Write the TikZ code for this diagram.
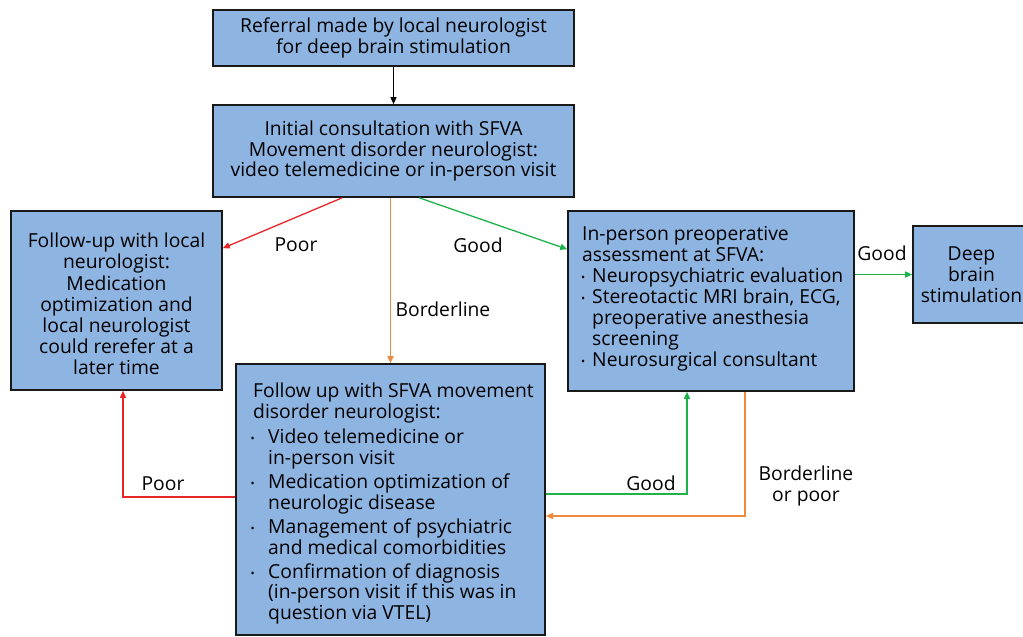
\documentclass[tikz,border=0pt]{standalone}
\usepackage{fontspec}
\setmainfont{Open Sans}
\usetikzlibrary{arrows.meta,calc}
\definecolor{boxfill}{RGB}{142,180,226}
\definecolor{cred}{RGB}{232,38,42}
\definecolor{corange}{RGB}{240,138,64}
\definecolor{cgreen}{RGB}{29,179,74}
\newcommand{\bulA}{\makebox[15pt][l]{\hspace*{-2.5pt}\raisebox{1pt}{\fontsize{11}{11}\selectfont•}}}
\newcommand{\indA}{\hspace*{15pt}}
\newcommand{\bulB}{\makebox[10pt][l]{\hspace*{-1pt}\raisebox{1pt}{\fontsize{11}{11}\selectfont•}}}
\newcommand{\indB}{\hspace*{10pt}}
\begin{document}
\begin{tikzpicture}[x=1pt,y=-1pt,
  box/.style={draw=black!90,line width=1.6pt,fill=boxfill,inner sep=0pt,
    font=\fontsize{19.3}{20.8}\selectfont},
  txt/.style={inner sep=0pt},
  lbl/.style={inner sep=0pt,font=\fontsize{19.3}{20.8}\selectfont,align=center},
  arr/.style={line width=1.3pt,-{Triangle[length=7pt,width=6pt]}}]
\useasboundingbox (0,0) rectangle (1023,637);
\clip (0,0) rectangle (1023,637);
\fill[white] (0,0) rectangle (1023,637);

\node[box,minimum width=361pt,minimum height=56pt,align=center] (b1) at (393.5,38)
  {Referral made by local neurologist\\for deep brain stimulation};
\node[box,minimum width=361pt,minimum height=92pt,align=center] (b2) at (393.5,151)
  {Initial consultation with SFVA\\Movement disorder neurologist:\\video telemedicine or in-person visit};
\node[box,minimum width=211pt,minimum height=179pt] (bl) at (116.5,300.5) {};
\node[txt,align=center,font=\fontsize{19.3}{21.2}\selectfont] (blt) at (116.5,304)
  {Follow-up with local\\neurologist:\\Medication\\optimization and\\local neurologist\\could rerefer at a\\later time};
\node[box,minimum width=286pt,minimum height=180pt] (br) at (711,301) {};
\node[txt,anchor=north west,align=left,font=\fontsize{19.3}{21}\selectfont] (brt) at (582,226)
  {In-person preoperative\\assessment at SFVA:\\
   \bulB Neuropsychiatric evaluation\\
   \bulB Stereotactic MRI brain, ECG,\\
   \indB preoperative anesthesia\\
   \indB screening\\
   \bulB Neurosurgical consultant};
\node[box,minimum width=117pt,minimum height=97pt,align=center] (bd) at (971.5,274.5)
  {Deep\\brain\\stimulation};
\node[box,minimum width=309pt,minimum height=271pt] (bb) at (390.5,499.5) {};
\node[txt,anchor=north west,align=left,font=\fontsize{19.3}{20.9}\selectfont] (bbt) at (253,382.5)
  {Follow up with SFVA movement\\disorder neurologist:\\[4.5pt]
   \bulA Video telemedicine or\\
   \indA in-person visit\\[3pt]
   \bulA Medication optimization of\\
   \indA neurologic disease\\[3pt]
   \bulA Management of psychiatric\\
   \indA and medical comorbidities\\[3pt]
   \bulA Confirmation of diagnosis\\
   \indA (in-person visit if this was in\\
   \indA question via VTEL)};

% coordinates on box borders
\coordinate (r1s) at ($(b2.south west)+(130,0)$);
\coordinate (r1e) at ($(bl.north east)+(0,38)$);
\coordinate (g1s) at ($(b2.south west)+(207,0)$);
\coordinate (g1e) at ($(br.north west)+(0,39)$);
\coordinate (o1s) at (b2.south -| bb.north);
\coordinate (g2s) at (br.east |- bd.west);
\coordinate (rps) at ($(bb.west)+(0,-2.5)$);
\coordinate (rpe) at ($(bl.south)+(6.5,0)$);
\coordinate (ggs) at ($(bb.east)+(0,-5.5)$);
\coordinate (gge) at ($(br.south)+(-24,0)$);
\coordinate (obs) at ($(br.south)+(34,0)$);
\coordinate (obe) at ($(bb.east)+(0,16.5)$);

\draw[arr,black] (b1.south) -- (b2.north);
\draw[arr,cred] (r1s) -- (r1e);
\draw[arr,corange] (o1s) -- (bb.north);
\draw[arr,cgreen] (g1s) -- (g1e);
\draw[arr,cgreen] (g2s) -- (bd.west);
\draw[arr,cred] (rps) -| (rpe);
\draw[arr,cgreen] (ggs) -| (gge);
\draw[arr,corange] (obs) |- (obe);

\node[lbl] (lp1) at (296,245) {Poor};
\node[lbl] (lg1) at (478,245) {Good};
\node[lbl] (lb1) at (443,309) {Borderline};
\node[lbl] (lg2) at (882,253) {Good};
\node[lbl] (lp2) at (163,484) {Poor};
\node[lbl] (lg3) at (651,483) {Good};
\node[lbl] (lb2) at (806,486) {Borderline\\or poor};
\end{tikzpicture}
\end{document}
